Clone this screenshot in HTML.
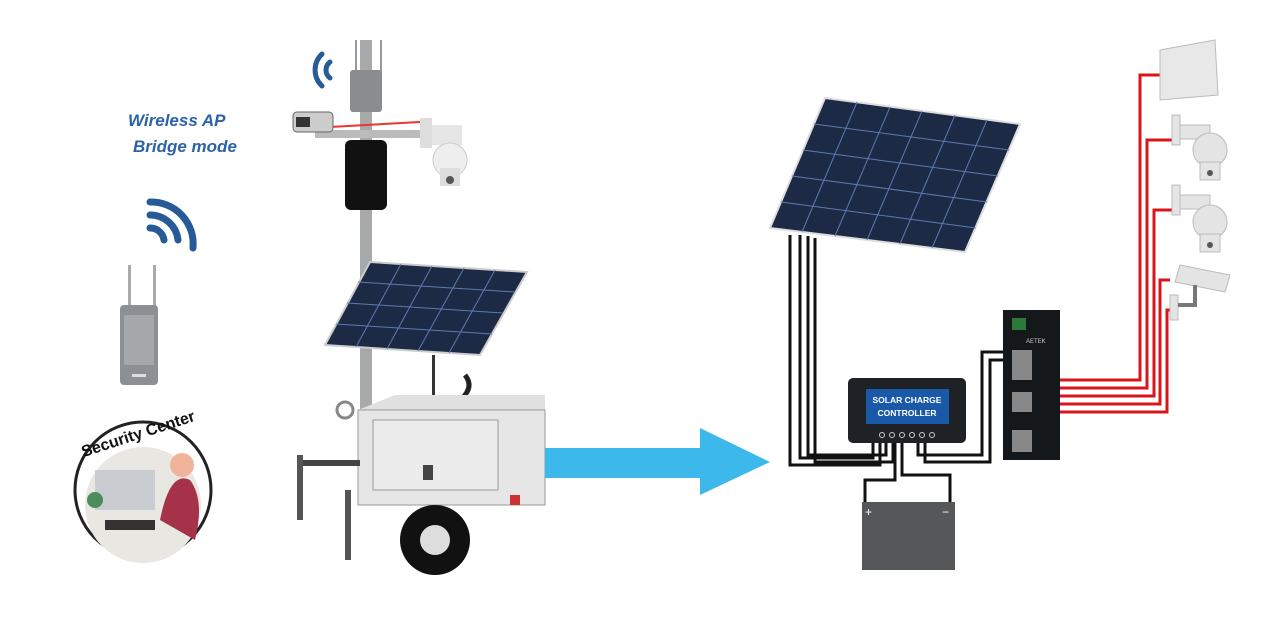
<!DOCTYPE html>
<html><head><meta charset="utf-8"><style>
html,body{margin:0;padding:0;background:#fff;}
svg{display:block}
</style></head><body>
<svg width="1280" height="628" viewBox="0 0 1280 628" xmlns="http://www.w3.org/2000/svg" font-family="Liberation Sans, sans-serif">
<rect width="1280" height="628" fill="#fff"/>
<!-- left text -->
<text x="128" y="126" font-size="17" font-weight="bold" font-style="italic" fill="#2a63a8">Wireless AP</text>
<text x="133" y="152" font-size="17" font-weight="bold" font-style="italic" fill="#2a63a8">Bridge mode</text>
<!-- left wifi -->
<g fill="none" stroke="#275b98" stroke-width="7" stroke-linecap="round">
<path d="M150 228 A14 14 0 0 1 164 240"/>
<path d="M150 215 A28 28 0 0 1 178 240"/>
<path d="M150 202 A42 42 0 0 1 193 248"/>
</g>
<!-- left router -->
<rect x="128" y="265" width="3" height="45" fill="#aaa"/>
<rect x="153" y="265" width="3" height="45" fill="#aaa"/>
<rect x="120" y="305" width="38" height="80" rx="4" fill="#8c8f93"/>
<rect x="124" y="315" width="30" height="50" fill="#a5a8ab"/>
<rect x="132" y="374" width="14" height="3" fill="#ddd"/>
<!-- security center -->
<circle cx="143" cy="490" r="68" fill="#fff" stroke="#222" stroke-width="3"/>
<circle cx="143" cy="505" r="58" fill="#e9e7e2"/>
<rect x="95" y="470" width="60" height="40" fill="#c9ccd0"/>
<path d="M160 520 q10 -50 30 -40 q15 20 5 60 z" fill="#a6324a"/>
<circle cx="182" cy="465" r="12" fill="#f0b49a"/>
<rect x="105" y="520" width="50" height="10" fill="#333"/>
<circle cx="95" cy="500" r="8" fill="#4a8c5a"/>
<text x="80" y="445" font-size="16" font-weight="bold" fill="#111" transform="rotate(-18 120 440)">Security Center</text>
<!-- pole -->
<rect x="360" y="40" width="12" height="370" fill="#a8a9ab"/>
<!-- top AP -->
<rect x="355" y="40" width="2" height="35" fill="#999"/>
<rect x="380" y="40" width="2" height="35" fill="#999"/>
<rect x="350" y="70" width="32" height="42" rx="3" fill="#8a8d90"/>
<g fill="none" stroke="#275b98" stroke-width="5" stroke-linecap="round">
<path d="M330 62 A10 10 0 0 0 330 78"/><path d="M322 54 A22 22 0 0 0 322 86"/>
</g>
<!-- bracket + cameras -->
<rect x="315" y="130" width="105" height="8" fill="#bbb"/>
<path d="M330 127 L420 122" stroke="#e33" stroke-width="2"/>
<rect x="293" y="112" width="40" height="20" rx="4" fill="#ccc" stroke="#666"/>
<rect x="296" y="117" width="14" height="10" fill="#333"/>
<rect x="345" y="140" width="42" height="70" rx="6" fill="#111"/>
<rect x="420" y="118" width="12" height="30" fill="#ddd"/>
<path d="M432 125 h30 v20 h-30z" fill="#e6e6e6"/>
<circle cx="450" cy="160" r="17" fill="#eee" stroke="#ccc"/>
<rect x="440" y="168" width="20" height="18" fill="#ddd"/>
<circle cx="450" cy="180" r="4" fill="#555"/>
<!-- trailer solar panel -->
<polygon points="370,262 527,272 480,355 325,345" fill="#1d2a45" stroke="#ccc" stroke-width="2"/>
<g stroke="#5b7ab0" stroke-width="1">
<line x1="347" y1="303" x2="503" y2="313"/>
<line x1="358" y1="282" x2="515" y2="292"/>
<line x1="336" y1="324" x2="492" y2="334"/>
<line x1="401" y1="264" x2="356" y2="347"/>
<line x1="432" y1="266" x2="387" y2="349"/>
<line x1="464" y1="268" x2="418" y2="351"/>
<line x1="495" y1="270" x2="449" y2="353"/>
</g>
<rect x="432" y="355" width="3" height="50" fill="#333"/>
<path d="M465 375 q8 10 0 20 q-8 10 0 20" stroke="#222" stroke-width="5" fill="none"/>
<!-- trailer -->
<polygon points="358,410 395,395 545,395 545,410" fill="#e0e0e0"/>
<rect x="358" y="410" width="187" height="95" fill="#e6e6e6" stroke="#999"/>
<rect x="373" y="420" width="125" height="70" fill="#ececec" stroke="#999"/>
<rect x="423" y="465" width="10" height="15" fill="#444"/>
<rect x="510" y="495" width="10" height="10" fill="#c33"/>
<rect x="300" y="460" width="60" height="6" fill="#444"/>
<rect x="345" y="490" width="6" height="70" fill="#555"/>
<rect x="297" y="455" width="6" height="65" fill="#555"/>
<circle cx="345" cy="410" r="8" fill="none" stroke="#888" stroke-width="3"/>
<circle cx="435" cy="540" r="35" fill="#111"/>
<circle cx="435" cy="540" r="15" fill="#ddd"/>
<!-- blue arrow -->
<polygon points="545,448 700,448 700,428 770,462 700,495 700,478 545,478" fill="#3cb8ea"/>
<!-- big solar panel -->
<polygon points="825,98 1020,124 965,252 770,228" fill="#1d2a45" stroke="#ddd" stroke-width="2"/>
<g stroke="#5b7ab0" stroke-width="1">
<line x1="814" y1="124" x2="1009" y2="150"/>
<line x1="803" y1="150" x2="998" y2="176"/>
<line x1="792" y1="176" x2="987" y2="202"/>
<line x1="781" y1="202" x2="976" y2="228"/>
<line x1="857" y1="102" x2="802" y2="232"/>
<line x1="890" y1="107" x2="835" y2="236"/>
<line x1="922" y1="111" x2="867" y2="240"/>
<line x1="955" y1="115" x2="900" y2="244"/>
<line x1="987" y1="120" x2="932" y2="248"/>
</g>
<!-- black wires -->
<g fill="none" stroke="#111" stroke-width="3">
<path d="M790 235 V465 H880 V440"/><path d="M800 235 V458 H873 V440"/>
<path d="M815 238 V462 H893 V440"/><path d="M808 236 V455 H886 V440"/>
<path d="M895 440 V480 H865 V505"/><path d="M902 440 V475 H950 V505"/>
<path d="M925 440 V462 H990 V360 H1005"/><path d="M918 440 V455 H982 V352 H1005"/>
</g>
<!-- controller -->
<rect x="848" y="378" width="118" height="65" rx="5" fill="#1e2126"/>
<rect x="866" y="389" width="83" height="35" fill="#1a58a8"/>
<text x="907" y="403" font-size="8.5" font-weight="bold" fill="#fff" text-anchor="middle">SOLAR CHARGE</text>
<text x="907" y="416" font-size="8.5" font-weight="bold" fill="#fff" text-anchor="middle">CONTROLLER</text>
<g fill="none" stroke="#ccc"><circle cx="882" cy="435" r="2.5"/><circle cx="892" cy="435" r="2.5"/><circle cx="902" cy="435" r="2.5"/><circle cx="912" cy="435" r="2.5"/><circle cx="922" cy="435" r="2.5"/><circle cx="932" cy="435" r="2.5"/></g>
<!-- battery -->
<rect x="862" y="502" width="93" height="68" fill="#555759"/>
<text x="865" y="516" font-size="12" fill="#fff">+</text>
<text x="942" y="516" font-size="12" fill="#fff">−</text>
<!-- switch -->
<rect x="1003" y="310" width="57" height="150" fill="#15181b"/>
<rect x="1012" y="318" width="14" height="12" fill="#2b7a3a"/>
<text x="1026" y="343" font-size="6" fill="#ccc">AETEK</text>
<g fill="#888"><rect x="1012" y="350" width="20" height="30"/><rect x="1012" y="392" width="20" height="20"/><rect x="1012" y="430" width="20" height="22"/></g>
<!-- red wires -->
<g fill="none" stroke="#d9151c" stroke-width="3">
<path d="M1060 380 H1140 V75 H1162"/><path d="M1060 388 H1147 V140 H1172"/>
<path d="M1060 396 H1154 V210 H1172"/><path d="M1060 404 H1160 V280 H1170"/>
<path d="M1060 412 H1167 V310 H1170"/>
</g>
<!-- devices -->
<polygon points="1160,50 1215,40 1218,95 1160,100" fill="#e8e8e8" stroke="#bbb"/>
<g fill="#e4e4e4" stroke="#bbb">
<rect x="1172" y="115" width="8" height="30"/><rect x="1180" y="125" width="30" height="14"/>
<circle cx="1210" cy="150" r="17"/><rect x="1200" y="162" width="20" height="18"/>
<rect x="1172" y="185" width="8" height="30"/><rect x="1180" y="195" width="30" height="14"/>
<circle cx="1210" cy="222" r="17"/><rect x="1200" y="234" width="20" height="18"/>
<rect x="1170" y="295" width="8" height="25"/>
<polygon points="1180,265 1230,275 1225,292 1175,282"/>
</g>
<circle cx="1210" cy="173" r="3" fill="#555"/><circle cx="1210" cy="245" r="3" fill="#555"/>
<path d="M1195 285 V305 H1178" stroke="#777" stroke-width="4" fill="none"/>
</svg>
</body></html>
